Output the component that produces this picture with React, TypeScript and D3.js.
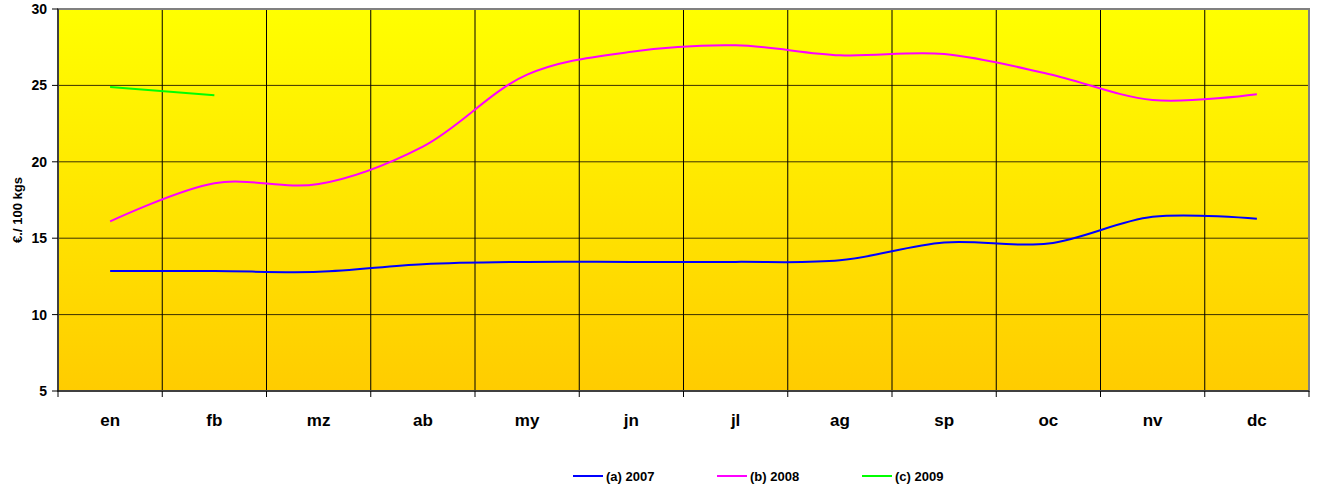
import React from "react";
import * as d3 from "d3";

const months = ["en", "fb", "mz", "ab", "my", "jn", "jl", "ag", "sp", "oc", "nv", "dc"];
const yTicks = [5, 10, 15, 20, 25, 30];
const s2007 = [12.85, 12.85, 12.8, 13.3, 13.45, 13.45, 13.45, 13.55, 14.72, 14.65, 16.4, 16.27];
const s2008 = [16.1, 18.6, 18.55, 21.0, 25.7, 27.2, 27.62, 26.97, 27.05, 25.75, 24.05, 24.42];
const s2009 = [24.9, 24.35];
const seriesNames = ["(a) 2007", "(b) 2008", "(c) 2009"];
const seriesColors = ["#0000FF", "#FF00FF", "#00FF00"];

export default function App() {
  const W = 1317, H = 488;
  const left = 58, right = 1309, top = 9, bottom = 391;
  const x = d3.scaleBand<string>().domain(months).range([left, right]);
  const y = d3.scaleLinear().domain([5, 30]).range([bottom, top]);
  const line = d3
    .line<number>()
    .x((_, i) => (x(months[i]) as number) + x.bandwidth() / 2)
    .y((d) => y(d))
    .curve(d3.curveCatmullRom.alpha(0.5));
  const series = [s2007, s2008, s2009];
  const boundaries = months.map((m) => x(m) as number).concat([right]);
  const legendX = [573, 717, 862];
  return (
    <svg width={W} height={H} style={{ position: "absolute", left: 0, top: 0, fontFamily: "'Liberation Sans', Arial, sans-serif" }}>
      <defs>
        <linearGradient id="bg" x1="0" y1="0" x2="0" y2="1">
          <stop offset="0" stopColor="#FFFF00" />
          <stop offset="1" stopColor="#FFCC00" />
        </linearGradient>
      </defs>
      <rect x={left} y={top} width={right - left} height={bottom - top} fill="url(#bg)" />
      {yTicks.slice(1, -1).map((t) => (
        <line key={"h" + t} x1={left} x2={right} y1={y(t)} y2={y(t)} stroke="#3a3000" strokeWidth={1} />
      ))}
      {boundaries.slice(1, -1).map((b, i) => (
        <line key={"v" + i} x1={b} x2={b} y1={top} y2={bottom} stroke="#000" strokeWidth={1} />
      ))}
      <rect x={left} y={top} width={right - left} height={bottom - top} fill="none" stroke="#808080" strokeWidth={2} />
      <line x1={left} x2={left} y1={top} y2={bottom} stroke="#000" strokeWidth={1} />
      <line x1={left} x2={right} y1={bottom} y2={bottom} stroke="#000" strokeWidth={1} />
      {yTicks.map((t) => (
        <g key={"yt" + t}>
          <line x1={left - 6} x2={left} y1={y(t)} y2={y(t)} stroke="#000" />
          <text x={left - 11} y={y(t)} dy="0.35em" textAnchor="end" fontSize={14} fontWeight="bold">{t}</text>
        </g>
      ))}
      {boundaries.map((b, i) => (
        <line key={"xt" + i} x1={b} x2={b} y1={bottom} y2={bottom + 6} stroke="#000" />
      ))}
      {months.map((m) => (
        <text key={m} x={(x(m) as number) + x.bandwidth() / 2} y={426} textAnchor="middle" fontSize={17} fontWeight="bold">{m}</text>
      ))}
      <text transform={`translate(22,${(top + bottom) / 2 + 10}) rotate(-90)`} textAnchor="middle" fontSize={13} fontWeight="bold">€./ 100 kgs</text>
      {series.map((s, i) => (
        <path key={"s" + i} d={line(s) || ""} fill="none" stroke={seriesColors[i]} strokeWidth={2} />
      ))}
      {seriesNames.map((n, i) => (
        <g key={n}>
          <line x1={legendX[i]} x2={legendX[i] + 30} y1={476} y2={476} stroke={seriesColors[i]} strokeWidth={2} />
          <text x={legendX[i] + 33} y={476} dy="0.35em" fontSize={13} fontWeight="bold">{n}</text>
        </g>
      ))}
    </svg>
  );
}
